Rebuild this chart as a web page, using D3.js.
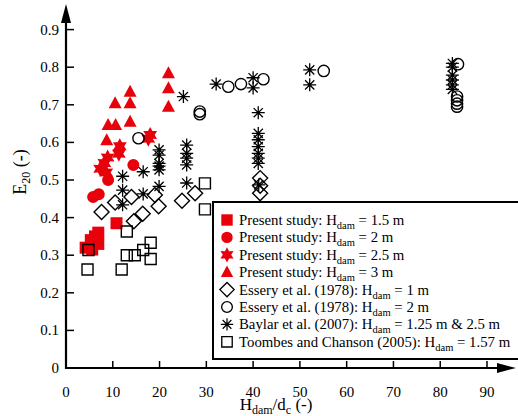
<!DOCTYPE html>
<html>
<head>
<meta charset="utf-8">
<script src="https://cdn.jsdelivr.net/npm/d3@7"></script>
<style>
  html, body { margin: 0; padding: 0; background: #fff; }
  svg { display: block; }
</style>
</head>
<body>
<svg id="chart" width="518" height="416" font-family="Liberation Serif, Times New Roman, DejaVu Serif, serif"></svg>
<script>
// Axis ticks
const xTicks = [0, 10, 20, 30, 40, 50, 60, 70, 80, 90];
const yTicks = [0, 0.1, 0.2, 0.3, 0.4, 0.5, 0.6, 0.7, 0.8, 0.9];
const yTickLabels = ["0", "0.1", "0.2", "0.3", "0.4", "0.5", "0.6", "0.7", "0.8", "0.9"];

// Series: [Hdam/dc, E20]
const present15 = [[10.8,0.385],[6.9,0.36],[6.9,0.33],[5.3,0.34],[4.2,0.32],[5.6,0.315],[6.2,0.35]];
const present20 = [[14.4,0.54],[9.0,0.50],[7.0,0.462],[5.8,0.455]];
const present25 = [[18.0,0.62],[17.6,0.61],[11.5,0.59],[11.3,0.57],[8.9,0.56],[8.2,0.545],[7.3,0.53],[8.6,0.52]];
const present30 = [[21.9,0.784],[21.9,0.744],[21.9,0.695],[13.7,0.735],[13.7,0.704],[13.7,0.655],
                   [10.5,0.704],[9.0,0.646],[10.6,0.646],[8.7,0.606]];
const essery1 = [[7.6,0.415],[10.5,0.44],[14.0,0.455],[16.4,0.41],[14.5,0.39],[19.0,0.46],[19.8,0.43],
                 [24.8,0.445],[27.6,0.465],[41.5,0.505],[41.5,0.485],[41.5,0.465]];
const essery2 = [[15.5,0.611],[28.6,0.682],[28.6,0.675],[34.7,0.748],[37.4,0.755],[42.2,0.768],[55.1,0.79],
                 [83.8,0.808],[83.6,0.722],[83.6,0.712],[83.6,0.703],[83.6,0.695]];
const baylar = [[25.1,0.722],[19.9,0.58],[19.9,0.566],[19.9,0.544],[19.9,0.537],[19.9,0.527],
                [25.8,0.593],[25.8,0.571],[25.8,0.558],[25.8,0.54],[16.5,0.522],[12.1,0.51],
                [12.1,0.473],[12.1,0.434],[16.5,0.463],[19.9,0.483],[25.8,0.492],[32.1,0.755],
                [40.0,0.772],[40.0,0.745],[41.1,0.679],[41.1,0.624],[41.1,0.607],[41.1,0.589],
                [41.1,0.571],[41.1,0.558],[41.1,0.544],[41.2,0.487],[52.1,0.793],[52.1,0.753],
                [82.6,0.81],[82.6,0.80],[82.6,0.779],[82.6,0.766],[82.6,0.753],[82.6,0.741]];
const toombes = [[4.8,0.314],[4.6,0.262],[11.9,0.262],[13.0,0.363],[13.0,0.30],[14.7,0.30],
                 [16.5,0.314],[18.1,0.333],[18.1,0.29],[29.7,0.491],[29.7,0.422]];

// Legend entries: [before subscript, subscript, after subscript]
const legendLabels = [
  ["Present study: H", "dam", " = 1.5 m"],
  ["Present study: H", "dam", " = 2 m"],
  ["Present study: H", "dam", " = 2.5 m"],
  ["Present study: H", "dam", " = 3 m"],
  ["Essery et al. (1978): H", "dam", " = 1 m"],
  ["Essery et al. (1978): H", "dam", " = 2 m"],
  ["Baylar et al. (2007): H", "dam", " = 1.25 m & 2.5 m"],
  ["Toombes and Chanson (2005): H", "dam", " = 1.57 m"]
];

const RED = "#e8000a";
const svg = d3.select("#chart");

const x = d3.scaleLinear().domain([0, 90]).range([66, 487]);
const y = d3.scaleLinear().domain([0, 0.9]).range([368, 29.6]);

// Marker path builders (centred at 0,0)
function hexStar(r) {
  const pts = [];
  for (let i = 0; i < 12; i++) {
    const a = -Math.PI / 2 + i * Math.PI / 6;
    const rr = i % 2 === 0 ? r : r * 0.55;
    pts.push([rr * Math.cos(a), rr * Math.sin(a)]);
  }
  return "M" + pts.map(p => p.join(",")).join("L") + "Z";
}
function asterisk(r) {
  let p = "";
  for (let i = 0; i < 4; i++) {
    const a = i * Math.PI / 4;
    const dx = r * Math.cos(a), dy = r * Math.sin(a);
    p += `M${-dx},${-dy}L${dx},${dy}`;
  }
  return p;
}
const styles = {
  square:   { d: "M-6,-6H6V6H-6Z", fill: RED, stroke: "none", sw: 0 },
  circle:   { d: d3.symbol(d3.symbolCircle, 113)(), fill: RED, stroke: "none", sw: 0 },
  star:     { d: hexStar(8), fill: RED, stroke: "none", sw: 0 },
  triangle: { d: "M0,-7L6.5,5L-6.5,5Z", fill: RED, stroke: "none", sw: 0 },
  diamond:  { d: "M0,-7.5L7.5,0L0,7.5L-7.5,0Z", fill: "none", stroke: "#000", sw: 1.4 },
  ocircle:  { d: d3.symbol(d3.symbolCircle, 100)(), fill: "none", stroke: "#000", sw: 1.4 },
  asterisk: { d: asterisk(6.5), fill: "none", stroke: "#000", sw: 1.3 },
  osquare:  { d: "M-5.5,-5.5H5.5V5.5H-5.5Z", fill: "none", stroke: "#000", sw: 1.4 }
};

const series = [
  { data: present15, mark: "square" },
  { data: present20, mark: "circle" },
  { data: present25, mark: "star" },
  { data: present30, mark: "triangle" },
  { data: essery1, mark: "diamond" },
  { data: essery2, mark: "ocircle" },
  { data: baylar, mark: "asterisk" },
  { data: toombes, mark: "osquare" }
];

// Data points
series.forEach(s => {
  const st = styles[s.mark];
  svg.append("g").selectAll("path").data(s.data).join("path")
    .attr("d", st.d)
    .attr("transform", d => `translate(${x(d[0])},${y(d[1])})`)
    .attr("fill", st.fill)
    .attr("stroke", st.stroke)
    .attr("stroke-width", st.sw);
});

// Axes
const axisG = svg.append("g");
const x0 = x(0), y0 = y(0);
axisG.append("line").attr("x1", x0).attr("y1", y0).attr("x2", 500).attr("y2", y0)
  .attr("stroke", "#000").attr("stroke-width", 2.2);
axisG.append("path").attr("d", `M516,${y0}L497,${y0 - 5}L497,${y0 + 5}Z`).attr("fill", "#000");
axisG.append("line").attr("x1", x0).attr("y1", y0 + 1).attr("x2", x0).attr("y2", 20)
  .attr("stroke", "#000").attr("stroke-width", 2.2);
axisG.append("path").attr("d", `M${x0},4L${x0 - 5},23L${x0 + 5},23Z`).attr("fill", "#000");

// x ticks (inward)
axisG.selectAll(".xt").data(xTicks.filter(v => v > 0)).join("line")
  .attr("x1", d => x(d)).attr("x2", d => x(d))
  .attr("y1", y0).attr("y2", y0 - 7)
  .attr("stroke", "#000").attr("stroke-width", 1.5);
axisG.selectAll(".xl").data(xTicks).join("text")
  .attr("x", d => x(d)).attr("y", y0 + 29)
  .attr("text-anchor", "middle").attr("font-size", 15)
  .text(d => d);

// y ticks (inward)
axisG.selectAll(".yt").data(yTicks.filter(v => v > 0)).join("line")
  .attr("x1", x0).attr("x2", x0 + 8)
  .attr("y1", d => y(d)).attr("y2", d => y(d))
  .attr("stroke", "#000").attr("stroke-width", 1.5);
axisG.selectAll(".yl").data(yTicks).join("text")
  .attr("x", x0 - 7).attr("y", d => y(d) + 5)
  .attr("text-anchor", "end").attr("font-size", 15)
  .text((d, i) => yTickLabels[i]);

// Axis titles
const xt = svg.append("text").attr("x", 276).attr("y", 410)
  .attr("text-anchor", "middle").attr("font-size", 17);
xt.append("tspan").text("H");
xt.append("tspan").attr("font-size", 12).attr("dy", 4).text("dam");
xt.append("tspan").attr("dy", -4).text("/d");
xt.append("tspan").attr("font-size", 12).attr("dy", 4).text("c");
xt.append("tspan").attr("dy", -4).text(" (-)");

const yt = svg.append("text").attr("transform", "translate(26,172) rotate(-90)")
  .attr("text-anchor", "middle").attr("font-size", 18);
yt.append("tspan").text("E");
yt.append("tspan").attr("font-size", 12).attr("dy", 4).text("20");
yt.append("tspan").attr("dy", -4).text(" (-)");

// Legend
const lg = svg.append("g");
lg.append("rect").attr("x", 213).attr("y", 202).attr("width", 320).attr("height", 157)
  .attr("fill", "#fff").attr("stroke", "#000").attr("stroke-width", 2);
series.forEach((s, i) => {
  const st = styles[s.mark];
  const cy = 220 + i * 17.4;
  lg.append("path").attr("d", st.d)
    .attr("transform", `translate(227,${cy}) scale(0.95)`)
    .attr("fill", st.fill).attr("stroke", st.stroke).attr("stroke-width", st.sw);
  const t = lg.append("text").attr("x", 239).attr("y", cy + 5).attr("font-size", 14.8);
  const lab = legendLabels[i];
  t.append("tspan").text(lab[0]);
  t.append("tspan").attr("font-size", 10.5).attr("dy", 4).text(lab[1]);
  t.append("tspan").attr("dy", -4).text(lab[2]);
});
</script>
</body>
</html>
